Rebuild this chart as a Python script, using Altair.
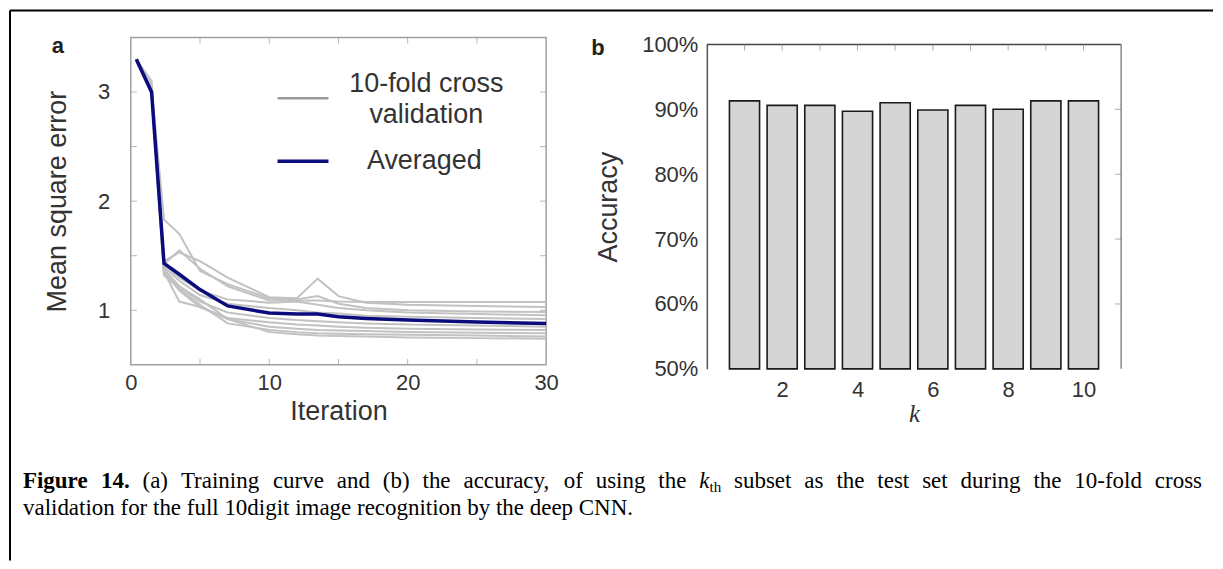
import altair as alt
import pandas as pd

# ---------------- data: panel a (training curves) ----------------
iterations = [0.4, 1.5, 2.4, 3.5, 5, 7, 10, 12, 13.5, 15, 17, 20, 25, 30]
run_01 = [3.30, 3.05, 1.83, 1.70, 1.36, 1.24, 1.11, 1.09, 1.09, 1.08, 1.075, 1.075, 1.075, 1.075]
run_02 = [3.30, 3.05, 1.45, 1.53, 1.45, 1.30, 1.12, 1.11, 1.29, 1.13, 1.07, 1.05, 1.04, 1.03]
run_03 = [3.30, 3.10, 1.42, 1.55, 1.38, 1.22, 1.09, 1.10, 1.13, 1.06, 1.02, 1.00, 0.99, 0.985]
run_04 = [3.30, 3.00, 1.42, 1.30, 1.18, 1.10, 1.07, 1.08, 1.05, 1.02, 1.00, 0.98, 0.965, 0.955]
run_05 = [3.30, 3.00, 1.40, 1.27, 1.14, 1.06, 1.02, 1.00, 0.98, 0.97, 0.95, 0.94, 0.93, 0.92]
run_06 = [3.28, 3.00, 1.38, 1.22, 1.08, 0.98, 0.93, 0.91, 0.90, 0.89, 0.88, 0.87, 0.86, 0.85]
run_07 = [3.28, 2.98, 1.36, 1.18, 1.03, 0.93, 0.89, 0.87, 0.86, 0.85, 0.84, 0.83, 0.825, 0.82]
run_08 = [3.30, 3.00, 1.35, 1.08, 1.03, 0.92, 0.85, 0.83, 0.82, 0.815, 0.81, 0.80, 0.795, 0.79]
run_09 = [3.30, 3.00, 1.32, 1.20, 1.05, 0.88, 0.82, 0.80, 0.79, 0.785, 0.78, 0.775, 0.77, 0.76]
run_10 = [3.30, 3.02, 1.32, 1.22, 1.10, 0.92, 0.80, 0.78, 0.77, 0.765, 0.76, 0.75, 0.745, 0.74]
averaged = [3.30, 3.00, 1.43, 1.33, 1.19, 1.04, 0.975, 0.965, 0.965, 0.94, 0.925, 0.91, 0.893, 0.878]
x_labels_a = [0, 10, 20, 30]
y_labels_a = [1, 2, 3]
x_minor_a = [5, 10, 15, 20, 25]
y_minor_a = [1.0, 1.5, 2.0, 2.5, 3.0]

# ---------------- data: panel b (accuracy per subset) ----------------
k_values = [1, 2, 3, 4, 5, 6, 7, 8, 9, 10]
accuracy = [0.913, 0.906, 0.906, 0.897, 0.910, 0.899, 0.906, 0.900, 0.913, 0.913]
x_labels_b = [2, 4, 6, 8, 10]
y_labels_b = [0.5, 0.6, 0.7, 0.8, 0.9, 1.0]
y_minor_b = [0.6, 0.7, 0.8, 0.9]

# ---------------- caption ----------------
caption_words_1 = [("Figure", "b"), ("14.", "b"), ("(a)", "r"), ("Training", "r"), ("curve", "r"),
                   ("and", "r"), ("(b)", "r"), ("the", "r"), ("accuracy,", "r"), ("of", "r"),
                   ("using", "r"), ("the", "r"), ("k|th", "k"), ("subset", "r"), ("as", "r"),
                   ("the", "r"), ("test", "r"), ("set", "r"), ("during", "r"), ("the", "r"),
                   ("10-fold", "r"), ("cross", "r")]
caption_line_2 = "validation for the full 10digit image recognition by the deep CNN."

SANS = "Liberation Sans"
SERIF = "Liberation Serif"
A_W, A_H = 416, 328
B_W, B_H = 415, 332
CAP_FS = 23
SUB_FS = 15
TICK_FS = 22
TITLE_FS = 27

# Times metrics (per 1000 em) for caption justification
TR = {' ': 250, '(': 333, ')': 333, ',': 250, '-': 333, '.': 250,
      'a': 444, 'b': 500, 'c': 444, 'd': 500, 'e': 444, 'f': 333, 'g': 500, 'h': 500, 'i': 278,
      'j': 278, 'k': 500, 'l': 278, 'm': 778, 'n': 500, 'o': 500, 'p': 500, 'q': 500, 'r': 333,
      's': 389, 't': 278, 'u': 500, 'v': 500, 'w': 722, 'x': 500, 'y': 500, 'z': 444,
      'T': 611, 'C': 667, 'N': 722, 'F': 556}
TB = {'F': 611, 'i': 278, 'g': 500, 'u': 556, 'r': 444, 'e': 444, '.': 250}


def tw(s, table, fs):
    return sum(table.get(c, 500) for c in s) * fs / 1000.0


tokens = []  # per word: list of (text, style, width)
for w, st in caption_words_1:
    if st == "k":
        a, b = w.split("|")
        tokens.append([(a, "i", 444 * CAP_FS / 1000.0), (b, "s", tw(b, TR, SUB_FS))])
    elif st == "b":
        tokens.append([(w, "b", tw(w, TB, CAP_FS))])
    else:
        tokens.append([(w, "r", tw(w, TR, CAP_FS))])

CAP_X0, CAP_X1 = -108, 1073
total_w = sum(t[2] for word in tokens for t in word)
gap = (CAP_X1 - CAP_X0 - total_w) / (len(tokens) - 1)
cap_rows = []
xc = CAP_X0
for word in tokens:
    for text, st, wdt in word:
        cap_rows.append({"t": text, "px": xc, "st": st})
        xc += wdt
    xc += gap
cap_df = pd.DataFrame(cap_rows)

# ---------------- tables ----------------
runs = [run_01, run_02, run_03, run_04, run_05, run_06, run_07, run_08, run_09, run_10]
df_runs = pd.DataFrame([{"run": f"r{i + 1}", "it": x, "mse": v}
                        for i, r in enumerate(runs) for x, v in zip(iterations, r)])
df_avg = pd.DataFrame({"it": iterations, "mse": averaged})
df_b = pd.DataFrame({"k": k_values, "acc": accuracy})
dummy = pd.DataFrame({"d": [0]})

# ---------------- panel a ----------------
x_a = alt.X("it:Q", scale=alt.Scale(domain=[0, 30], nice=False, zero=False),
            axis=alt.Axis(values=x_labels_a, ticks=False, domain=False, grid=False, labelFlush=False,
                          labelPadding=8, labelFontSize=TICK_FS, title="Iteration",
                          titleFontSize=TITLE_FS, titlePadding=5))
y_a = alt.Y("mse:Q", scale=alt.Scale(domain=[0.5, 3.5], nice=False, zero=False),
            axis=alt.Axis(values=y_labels_a, format="d", ticks=False, domain=False, grid=False,
                          labelPadding=21, labelFontSize=TICK_FS, title="Mean square error",
                          titleFontSize=TITLE_FS, titlePadding=26))

gray_lines = alt.Chart(df_runs).mark_line(color="#c2c2c2", strokeWidth=2).encode(
    x=x_a, y=y_a, detail="run:N")
navy_line = alt.Chart(df_avg).mark_line(color="#0b0b7d", strokeWidth=3.5).encode(x=x_a, y=y_a)

df_atx = pd.DataFrame({"it": x_minor_a})
df_aty = pd.DataFrame({"mse": y_minor_a})
tick_b = alt.Chart(df_atx).mark_tick(orient="vertical", size=6, thickness=1, color="#9a9a9a",
                                     yOffset=-3).encode(x=x_a, y=alt.datum(0.5))
tick_t = alt.Chart(df_atx).mark_tick(orient="vertical", size=6, thickness=1, color="#9a9a9a",
                                     yOffset=3).encode(x=x_a, y=alt.datum(3.5))
tick_l = alt.Chart(df_aty).mark_tick(orient="horizontal", size=6, thickness=1, color="#9a9a9a",
                                     xOffset=3).encode(x=alt.datum(0), y=y_a)
tick_r = alt.Chart(df_aty).mark_tick(orient="horizontal", size=6, thickness=1, color="#9a9a9a",
                                     xOffset=-3).encode(x=alt.datum(30), y=y_a)

leg_gray = alt.Chart(dummy).mark_rule(color="#9a9a9a", strokeWidth=2.5).encode(
    x=alt.value(147), x2=alt.value(198), y=alt.value(61))
leg_navy = alt.Chart(dummy).mark_rule(color="#0b0b7d", strokeWidth=3.5).encode(
    x=alt.value(147), x2=alt.value(198), y=alt.value(124))
leg_txt_style = dict(font=SANS, fontSize=27, color="#333", align="center", baseline="middle")
leg_t1 = alt.Chart(dummy).mark_text(text="10-fold cross", **leg_txt_style).encode(
    x=alt.value(296), y=alt.value(47))
leg_t2 = alt.Chart(dummy).mark_text(text="validation", **leg_txt_style).encode(
    x=alt.value(296), y=alt.value(78))
leg_t3 = alt.Chart(dummy).mark_text(text="Averaged", **leg_txt_style).encode(
    x=alt.value(294), y=alt.value(124))
lab_a = alt.Chart(dummy).mark_text(text="a", font=SANS, fontSize=22, fontWeight="bold",
                                   color="#222", align="center", baseline="middle").encode(
    x=alt.value(-73), y=alt.value(9))

# outer frame of the figure
border_top = alt.Chart(dummy).mark_rule(color="black", strokeWidth=2).encode(
    x=alt.value(-121), x2=alt.value(1084), y=alt.value(-27))
border_left = alt.Chart(dummy).mark_rule(color="black", strokeWidth=2).encode(
    x=alt.value(-121), y=alt.value(-27), y2=alt.value(524))

# caption
cap_common = dict(font=SERIF, align="left", baseline="alphabetic", color="black")
cap_bold = alt.Chart(cap_df[cap_df.st == "b"]).mark_text(fontSize=CAP_FS, fontWeight="bold",
                                                          **cap_common).encode(
    x=alt.X("px:Q", scale=None), y=alt.value(451), text="t:N")
cap_reg = alt.Chart(cap_df[cap_df.st == "r"]).mark_text(fontSize=CAP_FS, **cap_common).encode(
    x=alt.X("px:Q", scale=None), y=alt.value(451), text="t:N")
cap_ital = alt.Chart(cap_df[cap_df.st == "i"]).mark_text(fontSize=CAP_FS, fontStyle="italic",
                                                          **cap_common).encode(
    x=alt.X("px:Q", scale=None), y=alt.value(451), text="t:N")
cap_sub = alt.Chart(cap_df[cap_df.st == "s"]).mark_text(fontSize=SUB_FS, **cap_common).encode(
    x=alt.X("px:Q", scale=None), y=alt.value(455), text="t:N")
cap_2 = alt.Chart(dummy).mark_text(text=caption_line_2, fontSize=CAP_FS, **cap_common).encode(
    x=alt.value(CAP_X0), y=alt.value(478))

panel_a = alt.layer(
    gray_lines, navy_line, tick_b, tick_t, tick_l, tick_r,
    leg_gray, leg_navy, leg_t1, leg_t2, leg_t3, lab_a,
    border_top, border_left, cap_bold, cap_reg, cap_ital, cap_sub, cap_2
).properties(width=A_W, height=A_H,
             view=alt.ViewBackground(stroke="#a0a0a0", strokeWidth=1.5))

# ---------------- panel b ----------------
x_b = alt.X("x0:Q", scale=alt.Scale(domain=[0, 11], nice=False, zero=False),
            axis=alt.Axis(values=x_labels_b, ticks=False, domain=False, grid=False, labelFlush=False,
                          labelPadding=11, labelFontSize=TICK_FS, title="k", titleFont=SERIF,
                          titleFontStyle="italic", titleFontSize=25, titlePadding=1))
y_b = alt.Y("acc:Q", scale=alt.Scale(domain=[0.5, 1.0], nice=False, zero=False, range=[B_H, 7]),
            axis=alt.Axis(values=y_labels_b, format=".0%", ticks=False, domain=True,
                          domainColor="#555", domainWidth=1.5, grid=False, labelPadding=9,
                          labelFontSize=TICK_FS, title="Accuracy", titleFontSize=TITLE_FS,
                          titlePadding=19))

bars = alt.Chart(df_b).transform_calculate(
    x0="datum.k - 0.4", x1="datum.k + 0.4"
).mark_bar(fill="#d5d5d5", stroke="#1a1a1a", strokeWidth=1.6).encode(
    x=x_b, x2="x1:Q", y=y_b, y2=alt.datum(0.5))

top_line = alt.Chart(dummy).mark_rule(color="#444", strokeWidth=1.5).encode(
    x=alt.datum(0), x2=alt.datum(11), y=alt.datum(1.0))
right_line = alt.Chart(dummy).mark_rule(color="#888", strokeWidth=1.5).encode(
    x=alt.datum(11), y=alt.datum(0.5), y2=alt.datum(1.0))
df_btx = pd.DataFrame({"x0": k_values})
df_bty = pd.DataFrame({"acc": y_minor_b})
tick_bt = alt.Chart(df_btx).mark_tick(orient="vertical", size=6, thickness=1, color="#888",
                                      yOffset=3).encode(x=x_b, y=alt.datum(1.0))
tick_br = alt.Chart(df_bty).mark_tick(orient="horizontal", size=6, thickness=1, color="#888",
                                      xOffset=-3).encode(x=alt.datum(11), y=y_b)
lab_b = alt.Chart(dummy).mark_text(text="b", font=SANS, fontSize=22, fontWeight="bold",
                                   color="#222", align="center", baseline="middle").encode(
    x=alt.value(-109), y=alt.value(11))

panel_b = alt.layer(bars, top_line, right_line, tick_bt, tick_br, lab_b).properties(
    width=B_W, height=B_H, view=alt.ViewBackground(stroke="transparent"))

chart = alt.hconcat(panel_a, panel_b, spacing=161, bounds="flush").properties(
    padding=0, background="white"
).configure_view(stroke="transparent").configure_axis(
    labelFont=SANS, titleFont=SANS, labelColor="#333", titleColor="#333",
    titleFontWeight="normal", grid=False
)

chart.save("out.html", embed_options={"renderer": "svg", "actions": False})
